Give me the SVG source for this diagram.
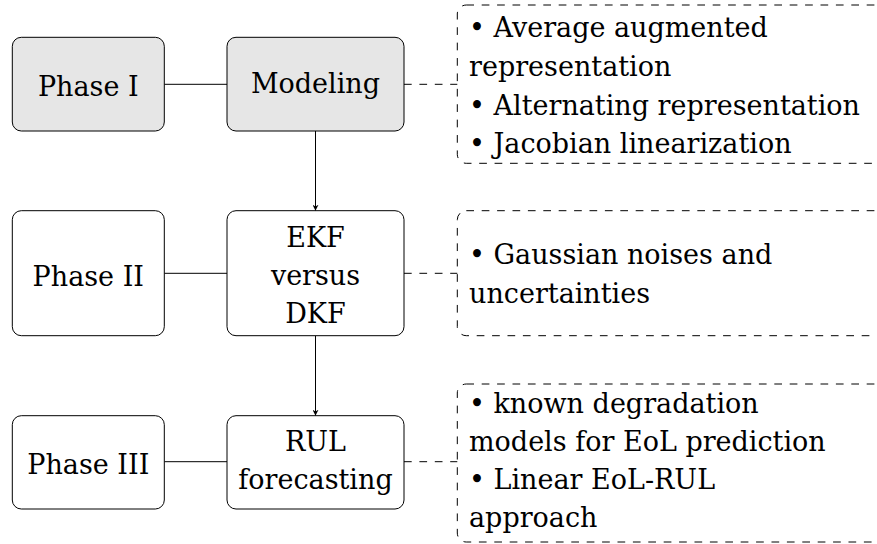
<svg xmlns="http://www.w3.org/2000/svg" width="877" height="544" viewBox="0 0 877 544" font-family="DejaVu Serif, serif">
<defs>
<style>
.node{stroke:#000;stroke-width:1;}
.gray{fill:#e6e6e6;}
.white{fill:#fff;}
.note{fill:none;stroke:#000;stroke-width:1;stroke-dasharray:7.7 7.7;}
.solid{stroke:#000;stroke-width:1;fill:none;}
.dash{stroke:#000;stroke-width:1;fill:none;stroke-dasharray:7.7 7.7;}
.t{font-size:27px;fill:#000;}
.c{text-anchor:middle;}
</style>
<marker id="arr" viewBox="0 0 10 10" refX="10" refY="5" markerWidth="6" markerHeight="6" markerUnits="userSpaceOnUse" orient="auto">
<path d="M0,0 L10,5 L0,10 L3,5 Z" fill="#000"/>
</marker>
</defs>
<rect width="877" height="544" fill="#fff"/>
<g id="connectors">
<line class="solid" x1="164.3" y1="84.3" x2="227" y2="84.3"/>
<line class="solid" x1="164.3" y1="273.3" x2="227" y2="273.3"/>
<line class="solid" x1="164.3" y1="461.7" x2="227" y2="461.7"/>
<line class="dash" x1="404" y1="84.3" x2="457.3" y2="84.3"/>
<line class="dash" x1="404" y1="273.3" x2="457.3" y2="273.3"/>
<line class="dash" x1="404" y1="461.7" x2="457.3" y2="461.7"/>
<line class="solid" x1="315.5" y1="131" x2="315.5" y2="210.7" marker-end="url(#arr)"/>
<line class="solid" x1="315.5" y1="335.7" x2="315.5" y2="415.7" marker-end="url(#arr)"/>
</g>
<g id="phase1">
<rect class="node gray" x="12.3" y="37.3" width="152" height="93.7" rx="9"/>
<text class="t c" x="88.3" y="96">Phase I</text>
</g>
<g id="modeling">
<rect class="node gray" x="227" y="37.3" width="177" height="93.7" rx="9"/>
<text class="t c" x="315.5" y="92.7">Modeling</text>
</g>
<g id="phase2">
<rect class="node white" x="12.3" y="210.7" width="152" height="125" rx="9"/>
<text class="t c" x="88.3" y="285.7">Phase II</text>
</g>
<g id="ekf">
<rect class="node white" x="227" y="210.7" width="177" height="125" rx="9"/>
<text class="t c" x="315.5" y="246.7">EKF</text>
<text class="t c" x="315.5" y="285">versus</text>
<text class="t c" x="315.5" y="323.3">DKF</text>
</g>
<g id="phase3">
<rect class="node white" x="12.3" y="415.7" width="152" height="93.3" rx="9"/>
<text class="t c" x="88.3" y="474.3">Phase III</text>
</g>
<g id="rul">
<rect class="node white" x="227" y="415.7" width="177" height="93.3" rx="9"/>
<text class="t c" x="315.5" y="451">RUL</text>
<text class="t c" x="315.5" y="489.3">forecasting</text>
</g>
<g id="note1">
<rect class="note" x="457.3" y="5" width="460" height="158.3" rx="9"/>
<text class="t" x="469" y="36.7">• Average augmented</text>
<text class="t" x="469" y="76">representation</text>
<text class="t" x="469" y="114.5">• Alternating representation</text>
<text class="t" x="469" y="153">• Jacobian linearization</text>
</g>
<g id="note2">
<rect class="note" x="457.3" y="210.7" width="460" height="125" rx="9"/>
<text class="t" x="469" y="264">• Gaussian noises and</text>
<text class="t" x="469" y="302.7">uncertainties</text>
</g>
<g id="note3">
<rect class="note" x="457.3" y="384" width="460" height="158" rx="9"/>
<text class="t" x="469" y="413.3">• known degradation</text>
<text class="t" x="469" y="451">models for EoL prediction</text>
<text class="t" x="469" y="489.3">• Linear EoL-RUL</text>
<text class="t" x="469" y="526.7">approach</text>
</g>
</svg>
